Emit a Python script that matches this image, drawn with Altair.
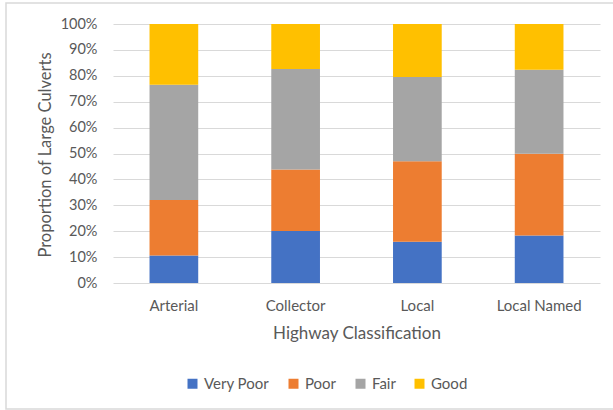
import altair as alt
import pandas as pd

categories = ["Arterial", "Collector", "Local", "Local Named"]
conditions = ["Very Poor", "Poor", "Fair", "Good"]
very_poor = [10.6, 20.1, 15.9, 18.3]
poor = [21.4, 23.7, 31.1, 31.6]
fair = [44.5, 38.8, 32.5, 32.4]
good = [23.5, 17.4, 20.5, 17.7]
colors = ["#4472C4", "#ED7D31", "#A5A5A5", "#FFC000"]

series = [very_poor, poor, fair, good]
rows = []
for ci, cond in enumerate(conditions):
    for ki, cat in enumerate(categories):
        rows.append({"Highway": cat, "Condition": cond, "Value": series[ci][ki], "order": ci})
df = pd.DataFrame(rows)

FONT = "Lato"
TXT = "#595959"

bars = alt.Chart(df).mark_bar().encode(
    x=alt.X("Highway:N", sort=categories,
            scale=alt.Scale(paddingInner=0.6, paddingOuter=0.3),
            axis=alt.Axis(title="Highway Classification", labelAngle=0, ticks=False,
                          domain=False, labelPadding=15, labelFontSize=15,
                          titleFontSize=17, titleFontWeight="normal",
                          titleY=50, titleBaseline="middle")),
    y=alt.Y("Value:Q", stack="normalize",
            scale=alt.Scale(domain=[0, 1]),
            axis=alt.Axis(title="Proportion of Large Culverts", format=".0%",
                          values=[i / 10 for i in range(11)], ticks=False,
                          domain=False, labelPadding=16, labelFontSize=14.5,
                          titleFontSize=16.5, titleFontWeight="normal",
                          titleX=-68, titleY=130.5, titleBaseline="middle",
                          gridColor="#D9D9D9", gridWidth=1)),
    color=alt.Color("Condition:N",
                    scale=alt.Scale(domain=conditions, range=colors),
                    legend=alt.Legend(title=None, orient="none", direction="horizontal",
                                      legendX=72, legendY=352, columns=4,
                                      symbolType="square", symbolSize=100,
                                      symbolStrokeWidth=0, columnPadding=16,
                                      labelOffset=4, labelFontSize=15,
                                      labelColor=TXT, labelFont=FONT)),
    order=alt.Order("order:Q", sort="ascending"),
)

border = alt.Chart(pd.DataFrame({"a": [0]})).mark_rect(
    fill=None, stroke="#D9D9D9", strokeWidth=1.5
).encode(
    x=alt.value(-107), x2=alt.value(510),
    y=alt.value(-21), y2=alt.value(385),
)

chart = alt.layer(bars, border).properties(
    width=487, height=259,
    autosize=alt.AutoSizeParams(type="none"),
    padding={"left": 113, "top": 24, "right": 13, "bottom": 127},
).configure_view(stroke=None).configure_axis(
    labelColor=TXT, titleColor=TXT, labelFont=FONT, titleFont=FONT,
).configure_axisX(grid=False)

chart.save("out.html", embed_options={"renderer": "svg", "actions": False})
